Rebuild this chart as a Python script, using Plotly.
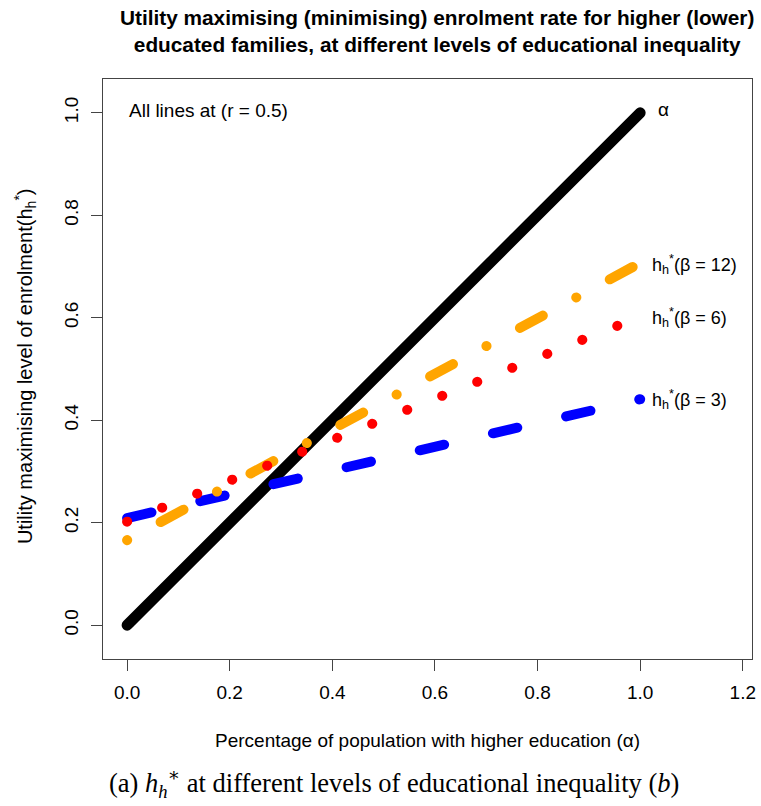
import plotly.graph_objects as go

# ---- data ----
alpha = [0.0, 0.1, 0.2, 0.3, 0.4, 0.5, 0.6, 0.7, 0.8, 0.9, 1.0]
h_alpha = [0.0, 0.1, 0.2, 0.3, 0.4, 0.5, 0.6, 0.7, 0.8, 0.9, 1.0]
h_beta12 = [0.166, 0.220, 0.274, 0.328, 0.382, 0.437, 0.491, 0.545, 0.599, 0.653, 0.707]
h_beta6 = [0.202, 0.242, 0.282, 0.322, 0.362, 0.402, 0.442, 0.482, 0.522, 0.562, 0.602]
h_beta3 = [0.209, 0.232, 0.255, 0.279, 0.302, 0.325, 0.348, 0.371, 0.395, 0.418, 0.441]

x_ticks = [0.0, 0.2, 0.4, 0.6, 0.8, 1.0, 1.2]
x_tick_labels = ["0.0", "0.2", "0.4", "0.6", "0.8", "1.0", "1.2"]
y_ticks = [0.0, 0.2, 0.4, 0.6, 0.8, 1.0]
y_tick_labels = ["0.0", "0.2", "0.4", "0.6", "0.8", "1.0"]

FONT = "Liberation Sans, Arial, Helvetica, sans-serif"

fig = go.Figure()
fig.add_trace(go.Scatter(x=alpha, y=h_alpha, mode="lines",
                         line=dict(color="black", width=11), showlegend=False))
fig.add_trace(go.Scatter(x=alpha, y=h_beta3, mode="lines",
                         line=dict(color="#0000ff", width=10, dash="25px,50.1px"), showlegend=False))
fig.add_trace(go.Scatter(x=alpha, y=h_beta12, mode="lines",
                         line=dict(color="#ffa500", width=10, dash="0.1px,38px,26px,38px"), showlegend=False))
fig.add_trace(go.Scatter(x=alpha, y=h_beta6, mode="lines",
                         line=dict(color="#ff0000", width=10, dash="0.1px,37.6px"), showlegend=False))

axis_common = dict(showgrid=False, zeroline=False, showline=True, mirror=True, automargin=False,
                   linecolor="#444444", linewidth=1, ticks="outside", ticklen=11,
                   tickcolor="#444444", tickwidth=1,
                   tickfont=dict(family=FONT, size=19, color="black"))

fig.update_layout(
    width=761, height=806,
    margin=dict(l=103, r=9, t=79, b=147, autoexpand=False),
    paper_bgcolor="white", plot_bgcolor="white",
    xaxis=dict(range=[-0.047, 1.218], tickvals=x_ticks, ticktext=x_tick_labels,
               ticklabelstandoff=5, **axis_common),
    yaxis=dict(range=[-0.066, 1.066], tickvals=y_ticks, ticktext=y_tick_labels,
               tickangle=-90, ticklabelstandoff=5, **axis_common),
)

ann = []
# title
ann.append(dict(xref="paper", yref="paper", x=0.515, y=1.083, xanchor="center", yanchor="middle",
                text="<b>Utility maximising (minimising) enrolment rate for higher (lower)<br>educated families, at different levels of educational inequality</b>",
                showarrow=False, font=dict(family=FONT, size=20.8, color="black")))
# axis titles
ann.append(dict(xref="paper", yref="paper", x=0.5, y=-0.1397, xanchor="center", yanchor="middle",
                text="Percentage of population with higher education (α)",
                showarrow=False, font=dict(family=FONT, size=19, color="black")))
ann.append(dict(xref="paper", yref="paper", x=-0.1202, y=0.505, xanchor="center", yanchor="middle",
                text="Utility maximising level of enrolment(h<sub>h</sub><sup>*</sup>)", textangle=-90,
                showarrow=False, font=dict(family=FONT, size=20, color="black")))
# caption
ann.append(dict(xref="paper", yref="paper", x=0.448, y=-0.2138, xanchor="center", yanchor="middle",
                text="(a) <i>h</i><sub><i>h</i></sub><sup>∗</sup> at different levels of educational inequality (<i>b</i>)",
                showarrow=False, font=dict(family="Liberation Serif, DejaVu Serif, serif", size=26.5, color="black")))
# in-plot text
ann.append(dict(xref="x", yref="y", x=0.0, y=1.005, xanchor="left", yanchor="middle",
                text="All lines at (r = 0.5)", showarrow=False,
                font=dict(family=FONT, size=19, color="black")))
ann.append(dict(xref="x", yref="y", x=1.03, y=1.006, xanchor="left", yanchor="middle",
                text="α", showarrow=False, font=dict(family=FONT, size=19, color="black")))
for yv, lab in [(0.703, "12"), (0.600, "6"), (0.441, "3")]:
    ann.append(dict(xref="x", yref="y", x=1.02, y=yv, xanchor="left", yanchor="middle",
                    text="h<sub>h</sub><sup>*</sup>(β = " + lab + ")", showarrow=False,
                    font=dict(family=FONT, size=18, color="black")))
fig.update_layout(annotations=ann)

post = ("var s=document.createElement('style');"
        "s.innerHTML='.js-line{stroke-linecap:round !important;stroke-linejoin:round !important;}';"
        "document.head.appendChild(s);")
fig.write_html("out.html", post_script=post)
